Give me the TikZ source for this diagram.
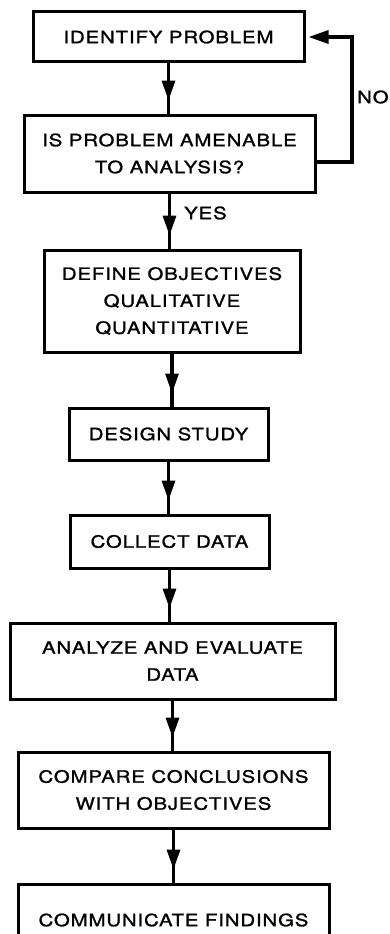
\documentclass[tikz,border=0pt]{standalone}
\usepackage{fontspec}
\setmainfont{TeX Gyre Heros}[FakeStretch=1.2,LetterSpace=5,FakeBold=1.2]
\usetikzlibrary{decorations.markings, arrows.meta}

\begin{document}
\begin{tikzpicture}[
            x=1pt, y=-1pt,
            >={Triangle[length=20pt 0 0,width=13pt 0 0]},
            font=\fontsize{17}{27}\selectfont,
            box/.style={draw, line width=3pt, align=center, inner sep=0pt},
            flow/.style={
                line width=3.2pt,
                postaction={decorate},
                decoration={markings, mark=at position -13pt with {\arrow{>}}}
            },
            back/.style={line width=3.2pt, ->, shorten >=3pt},
            tag/.style={anchor=west, inner sep=0pt}
        ]

            % Frame of the page
            \useasboundingbox (0,0) rectangle (389,934);
            \clip (0,0) rectangle (389,934);

            % Boxes (top to bottom)
            \node[box, minimum width=271pt, minimum height=50pt] (identify) at (168.5,37) {IDENTIFY PROBLEM};
            \node[box, minimum width=291pt, minimum height=77pt] (ask) at (169.5,153.5) {IS PROBLEM AMENABLE\\TO ANALYSIS?};
            \node[box, minimum width=256pt, minimum height=102pt] (define) at (172,301) {DEFINE OBJECTIVES\\QUALITATIVE\\QUANTITATIVE};
            \node[box, minimum width=199pt, minimum height=52pt] (design) at (168.5,434) {DESIGN STUDY};
            \node[box, minimum width=199pt, minimum height=53pt] (collect) at (169.5,541.5) {COLLECT DATA};
            \node[box, minimum width=325pt, minimum height=76pt] (analyze) at (172.5,661) {ANALYZE AND EVALUATE\\DATA};
            \node[box, minimum width=311pt, minimum height=76pt] (compare) at (173.5,790) {COMPARE CONCLUSIONS\\WITH OBJECTIVES};
            \node[box, minimum width=311pt, minimum height=72pt] (report) at (173.5,920) {COMMUNICATE FINDINGS};

            % Main flow
            \draw[flow] (identify.south) -- (identify.south |- ask.north);
            \draw[flow] (ask.south) -- (ask.south |- define.north);
            \draw[flow] (define.south) -- (define.south |- design.north);
            \draw[flow] (design.south) -- (design.south |- collect.north);
            \draw[flow] (collect.south) -- (collect.south |- analyze.north);
            \draw[flow] (analyze.south) -- (analyze.south |- compare.north);
            \draw[flow] (compare.south) -- (compare.south |- report.north);

            % NO loop back to the top
            \coordinate (turn) at (352,37);
            \draw[back] ([yshift=-8.5pt]ask.east) -| (turn) -- (identify.east);

            % Branch labels
            \node[tag] (yes) at (184,213) {YES};
            \node[tag] (no) at (357,97) {NO};

        \end{tikzpicture}
\end{document}
